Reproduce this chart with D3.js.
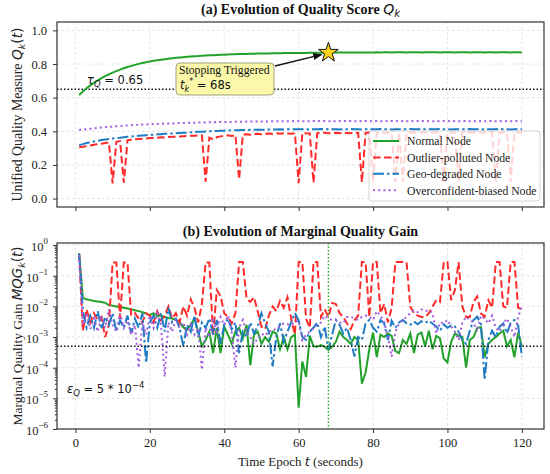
<!DOCTYPE html>
<html>
<head>
<meta charset="utf-8">
<script src="https://cdn.jsdelivr.net/npm/d3@7"></script>
<style>
body { margin: 0; background: #fff; }
</style>
</head>
<body>
<script>
// ---- data ----
var epochs = d3.range(1, 121);
var stopEpoch = 68;
var tauQ = 0.65;
var epsQ = 5e-4;
var seriesNames = ["Normal Node", "Outlier-polluted Node", "Geo-degraded Node", "Overconfident-biased Node"];
var qTicks = [0, 0.2, 0.4, 0.6, 0.8, 1.0];
var timeTicks = [0, 20, 40, 60, 80, 100, 120];
var mqgDecades = [1e-6, 1e-5, 1e-4, 1e-3, 1e-2, 1e-1, 1];

// (a) quality score Q_k(t)
var qNormal = [
    .615, .637, .656, .673, .689, .703, .716, .728, .739, .749,
    .758, .767, .775, .782, .789, .795, .801, .806, .811, .815,
    .819, .823, .826, .829, .832, .835, .837, .839, .841, .843,
    .845, .847, .848, .850, .851, .852, .853, .854, .855, .856,
    .857, .858, .858, .859, .860, .860, .861, .861, .862, .862,
    .863, .863, .864, .864, .864, .865, .865, .865, .866, .866,
    .866, .866, .867, .867, .867, .867, .868, .868, .868, .868,
    .868, .868, .869, .869, .869, .869, .869, .869, .869, .869,
    .870, .869, .870, .870, .869, .870, .870, .870, .869, .870,
    .870, .870, .869, .870, .870, .870, .870, .869, .870, .870,
    .870, .869, .870, .870, .870, .869, .870, .870, .870, .869,
    .870, .870, .869, .870, .870, .870, .869, .870, .870, .869
];
var qOutlier = [
    .305, .308, .312, .316, .320, .323, .326, .330, .334, .090,
    .338, .342, .095, .347, .350, .352, .354, .356, .358, .360,
    .361, .362, .364, .363, .366, .368, .367, .369, .371, .372,
    .373, .374, .375, .376, .100, .362, .352, .365, .370, .374,
    .376, .372, .378, .115, .380, .382, .379, .384, .386, .383,
    .385, .387, .384, .388, .386, .389, .387, .385, .388, .092,
    .390, .388, .387, .095, .389, .390, .392, .388, .390, .391,
    .389, .391, .390, .388, .392, .390, .097, .391, .392, .100,
    .391, .393, .390, .392, .391, .100, .393, .100, .392, .391,
    .393, .392, .394, .391, .393, .392, .394, .393, .100, .393,
    .392, .394, .100, .393, .392, .394, .393, .392, .394, .393,
    .392, .394, .100, .393, .392, .394, .100, .393, .392, .394
];
var qGeo = [
    .318, .324, .330, .335, .340, .344, .348, .351, .354, .357,
    .360, .362, .365, .367, .369, .371, .373, .375, .377, .379,
    .380, .382, .383, .385, .386, .387, .389, .390, .391, .392,
    .394, .395, .397, .398, .399, .400, .401, .402, .403, .404,
    .405, .406, .406, .407, .408, .408, .409, .409, .410, .410,
    .410, .411, .411, .411, .412, .411, .412, .412, .412, .413,
    .412, .413, .411, .413, .412, .414, .412, .413, .412, .413,
    .411, .413, .412, .414, .412, .413, .411, .413, .412, .413,
    .412, .414, .412, .413, .411, .413, .412, .413, .412, .414,
    .412, .413, .411, .413, .412, .413, .412, .414, .412, .413,
    .411, .413, .412, .413, .412, .414, .412, .413, .411, .413,
    .412, .413, .412, .414, .412, .413, .411, .413, .412, .413
];
var qOverconf = [
    .408, .410, .413, .415, .418, .420, .422, .424, .426, .428,
    .430, .432, .433, .435, .436, .438, .439, .440, .441, .442,
    .443, .444, .445, .446, .447, .447, .448, .449, .450, .450,
    .451, .451, .452, .453, .453, .454, .454, .455, .455, .455,
    .456, .456, .457, .457, .457, .458, .458, .458, .459, .459,
    .459, .459, .460, .460, .460, .460, .460, .461, .460, .461,
    .460, .461, .460, .461, .460, .461, .461, .460, .461, .460,
    .461, .460, .461, .461, .460, .461, .460, .461, .460, .461,
    .461, .460, .461, .460, .461, .461, .460, .461, .460, .461,
    .460, .461, .461, .460, .461, .460, .461, .460, .461, .461,
    .460, .461, .460, .461, .461, .460, .461, .460, .461, .460,
    .461, .461, .460, .461, .460, .461, .460, .461, .461, .460
];

// (b) marginal quality gain MQG_k(t)
var mqgNormal = [
    .55, .019, .017, .016, .015, .0145, .014, .013, .011, .0105,
    .010, .0095, .009, .0085, .008, .0075, .007, .0065, .0058, .0052,
    .006, .0048, .005, .0045, .0042, .004, .0036, .003, .0021, 1.7e-3,
    2.5e-3, 4e-3, 1.5e-3, 5e-4, 8e-4, 1.5e-3, 3e-4, 2e-3, 3e-4, 2.2e-3,
    1.2e-3, 6e-4, 1.5e-3, 2e-3, 9e-4, 2.5e-3, 1.2e-4, 1.2e-3, 1.5e-3, 6e-4,
    1e-3, 7e-4, 1.5e-3, 1.3e-3, 4e-4, 1e-3, 4e-4, 1e-3, 1.2e-3, 5e-6,
    1.6e-4, 5e-5, 1.1e-3, 5e-4, 4.8e-4, 5.5e-4, 4.8e-4, 3.8e-4, 4.8e-4, 7e-4,
    1.5e-3, 1e-3, 8e-4, 6e-4, 1e-3, 8e-4, 3e-5, 7e-5, 4e-4, 1.4e-3,
    2.2e-4, 1.2e-3, 1e-3, 1.3e-3, 1.1e-3, 3.5e-4, 3e-4, 8e-4, 6e-4, 1.3e-3,
    3e-4, 1.2e-3, 1.4e-3, 5e-4, 1.6e-3, 4e-4, 1.1e-3, 9e-4, 2e-4, 1.5e-4,
    7e-4, 1.3e-3, 1.1e-3, 1e-3, 1e-4, 8e-4, 1e-3, 2e-3, 2.1e-3, 2.2e-4,
    6e-4, 8e-4, 1e-3, 1.3e-3, 1.6e-3, 5e-4, 8e-4, 2.2e-4, 1.4e-3, 5e-4
];
var mqgOutlier = [
    .5, 1.6e-3, 8e-3, 3e-3, 6e-3, 3.5e-3, 4.5e-3, 1e-3, 2.5e-3, .27,
    .27, 4e-3, .27, .27, 5e-3, 6e-3, 4e-3, 3e-3, 6e-3, 5e-3,
    3e-3, 7e-3, 3.5e-3, 5e-3, 1e-2, 4e-3, 6e-3, 3e-3, 1e-2, 5e-3,
    1.7e-2, 9e-3, 3e-3, 1.2e-2, .27, .27, 1.1e-3, 3.4e-2, 2.2e-2, 6e-3,
    4.5e-3, 2.8e-3, 6e-3, .28, .28, 1.8e-2, 1.4e-2, 2e-2, 7e-3, 2.2e-3,
    1.8e-3, 5e-3, 1e-2, 7e-3, 1.5e-2, 9e-3, 2e-2, 4e-3, 1.2e-3, .28,
    .28, 4e-3, 2e-3, .28, .28, 4.5e-3, 8e-3, 4.5e-3, 1.3e-2, 1.2e-2,
    6e-3, 4.5e-3, 2.8e-3, 1.8e-3, 3.5e-3, 5e-3, .28, .28, 4.5e-3, .28,
    .28, 6e-3, 1.2e-2, 3e-3, 9e-3, .28, .28, .28, .28, 1e-2,
    6e-3, 5e-3, 4.5e-3, 4.5e-3, 6e-3, 1e-2, 1.6e-2, 1.4e-2, .28, .28,
    1.6e-2, 3.4e-2, .28, 1e-2, 4.5e-3, 4.5e-3, 1.4e-2, 2.1e-2, 6e-3, 4.6e-3,
    1.6e-2, 9e-3, .28, .28, 1e-2, 9e-3, .28, .28, 9e-3, 8e-3
];
var mqgGeo = [
    .52, 7e-3, 2e-3, 5e-3, 2e-3, 7e-3, 1.8e-3, 4.5e-3, 2.5e-3, 6e-3,
    1.5e-3, 3.5e-3, 2e-3, 5e-3, 1.3e-3, 4e-3, 2e-3, 6e-3, 1.4e-4, 3e-3,
    5e-3, 2e-3, 6e-3, 1.5e-3, 9e-3, 3e-3, 4e-3, 2e-3, 5e-4, 2.5e-3,
    1.5e-3, 5e-3, 1e-3, 3e-3, 2e-3, 4e-3, 1.2e-3, 3.6e-3, 6e-4, 2.5e-3,
    4e-3, 1.8e-3, 3e-3, 3e-4, 1.5e-3, 1e-3, 3e-3, 1.3e-3, 2.2e-3, 6e-3,
    2.8e-3, 1.5e-3, 1.1e-4, 1e-3, 2.8e-3, 7e-4, 1.5e-3, 3e-3, 6e-3, 3.5e-3,
    1e-3, 8e-4, 1.5e-3, 2e-3, 3e-3, 1e-3, 2.2e-3, 3.8e-4, 1.2e-3, 3.6e-3,
    2.5e-3, 1.3e-3, 2e-3, 8e-4, 2.3e-4, 1e-3, 8e-4, 2.8e-3, 3.6e-3, 2e-3,
    1.5e-3, 3.6e-3, 2.8e-3, 8e-4, 3.4e-3, 2e-3, 3e-3, 3.6e-3, 2.8e-3, 2.5e-3,
    3.2e-3, 2.6e-3, 3.3e-3, 2.9e-3, 3.4e-3, 2.7e-3, 2.2e-3, 1.6e-3, 2.6e-3, 2e-3,
    2.4e-3, 2.2e-3, 1.5e-3, 8e-4, 6e-4, 1.6e-3, 3.6e-3, 4.6e-3, 2.6e-3, 4e-5,
    8e-4, 1.6e-3, 1e-3, 2.2e-3, 2.8e-3, 1.3e-3, 3e-3, 3.6e-3, 2.4e-3, 2.3e-4
];
var mqgOverconf = [
    .48, 2.5e-3, 6e-3, 1.8e-3, 4e-3, 1.5e-3, 5e-3, 2e-3, 8e-3, 2.5e-3,
    1.5e-3, 6e-3, 2e-3, 3.5e-3, 1.2e-3, 2.5e-3, 1e-4, 3e-3, 1.2e-3, 5e-3,
    2e-3, 6e-3, 2.5e-3, 5e-5, 3e-3, 1.5e-3, 4e-3, 2e-3, 3e-3, 1.2e-3,
    2.5e-3, 1.2e-3, 2e-3, 8.5e-5, 2e-3, 1e-3, 3.5e-3, 1.5e-3, 4.5e-3, 2.5e-3,
    5e-3, 1.5e-3, 1e-4, 2e-3, 3.6e-3, 1.5e-3, 1e-3, 6e-4, 9e-4, 1.3e-3,
    1.1e-3, 1.6e-3, 1.5e-3, 2e-3, 2.2e-3, 2.8e-3, 2.6e-3, 2.5e-3, 3.2e-3, 3.4e-3,
    8e-4, 1.2e-3, 1.5e-3, 2e-3, 2.5e-3, 3e-3, 5e-3, 4e-3, 3.6e-3, 3.6e-3,
    3e-3, 2.8e-3, 4.5e-3, 4.6e-3, 4e-3, 3.6e-3, 4.5e-3, 5e-3, 4.6e-3, 3.6e-3,
    7e-3, 5e-3, 3e-3, 1e-3, 2.3e-4, 1.5e-3, 2.8e-3, 3.5e-3, 4.6e-3, 6e-3,
    7.5e-3, 6.5e-3, 8e-3, 7e-3, 7.6e-3, 6e-3, 1.3e-3, 3e-3, 2.8e-3, 3.6e-3,
    2.2e-3, 1.5e-3, 8e-4, 3e-3, 4.6e-3, 3.6e-3, 3e-3, 1.5e-3, 5e-3, 4e-3,
    2.8e-3, 5e-3, 2e-3, 1.5e-3, 2.8e-3, 4e-3, 2.2e-3, 1e-3, 4.6e-3, 1e-2
];

// ---- layout ----
var width = 550, height = 474;
var left = 57, right = 544;
var topA = 22, bottomA = 207;
var topB = 243, bottomB = 429;
var serif = "'Liberation Serif', 'Times New Roman', serif";
var mathFont = "'DejaVu Sans', sans-serif";

var colors = ["#22a22a", "#ff2a2a", "#1f7bc4", "#a25ce0"];
var dashes = [null, "7.5,3.5", "11,3,2.5,3", "2,3.2"];

var svg = d3.select("body").append("svg")
    .attr("width", width)
    .attr("height", height)
    .style("font-family", serif);

var x = d3.scaleLinear().domain([-4.95, 125.95]).range([left, right]);
var yA = d3.scaleLinear().domain([-0.05, 1.05]).range([bottomA, topA]);
var yB = d3.scaleLog().domain([1e-6, 1.17]).range([bottomB, topB]);

// minor ticks of the log axis
var minorTicks = [];
for (var e = -6; e < 0; e++)
    for (var m = 2; m < 10; m++) minorTicks.push(m * Math.pow(10, e));

// grid
function grid(yScale, yVals, y0, y1) {
    var g = svg.append("g").attr("stroke", "#dcdcdc").attr("stroke-width", 0.8)
        .attr("stroke-dasharray", "2.5,2.5");
    timeTicks.forEach(function(t) {
        g.append("line").attr("x1", x(t)).attr("x2", x(t)).attr("y1", y0).attr("y2", y1);
    });
    yVals.forEach(function(v) {
        g.append("line").attr("x1", left).attr("x2", right).attr("y1", yScale(v)).attr("y2", yScale(v));
    });
}
grid(yA, qTicks, topA, bottomA);
grid(yB, mqgDecades, topB, bottomB);

function drawSeries(parent, yScale, data, i) {
    var line = d3.line()
        .x(function(d, j) { return x(epochs[j]); })
        .y(function(d) { return yScale(d); });
    parent.append("path")
        .attr("d", line(data))
        .attr("fill", "none")
        .attr("stroke", colors[i])
        .attr("stroke-width", 2)
        .attr("stroke-dasharray", dashes[i]);
}

svg.append("clipPath").attr("id", "clipB").append("rect")
    .attr("x", left).attr("y", topB).attr("width", right - left).attr("height", bottomB - topB);

// (a) lines
svg.append("line")
    .attr("x1", left).attr("x2", right).attr("y1", yA(tauQ)).attr("y2", yA(tauQ))
    .attr("stroke", "#111").attr("stroke-width", 1.3).attr("stroke-dasharray", "1.5,2");
[qNormal, qOutlier, qGeo, qOverconf].forEach(function(d, i) { drawSeries(svg, yA, d, i); });

// (b) lines
var gB = svg.append("g").attr("clip-path", "url(#clipB)");
[mqgNormal, mqgOutlier, mqgGeo, mqgOverconf].forEach(function(d, i) { drawSeries(gB, yB, d, i); });

svg.append("line")
    .attr("x1", left).attr("x2", right).attr("y1", yB(epsQ)).attr("y2", yB(epsQ))
    .attr("stroke", "#111").attr("stroke-width", 1.3).attr("stroke-dasharray", "1.5,2");
svg.append("line")
    .attr("x1", x(stopEpoch)).attr("x2", x(stopEpoch)).attr("y1", topB).attr("y2", bottomB)
    .attr("stroke", "#22b022").attr("stroke-width", 1.4).attr("stroke-dasharray", "1.5,2");

// frames
[[topA, bottomA], [topB, bottomB]].forEach(function(p) {
    svg.append("rect").attr("x", left).attr("y", p[0])
        .attr("width", right - left).attr("height", p[1] - p[0])
        .attr("fill", "none").attr("stroke", "#333").attr("stroke-width", 1.2);
});

// axes
function styleAxis(g) {
    g.select(".domain").remove();
    g.selectAll(".tick line").attr("stroke", "#333").attr("stroke-width", 1);
    g.selectAll(".tick text").attr("font-family", serif).attr("font-size", 12.5).attr("fill", "#222");
}

svg.append("g").attr("transform", "translate(0," + bottomA + ")")
    .call(d3.axisBottom(x).tickValues(timeTicks).tickSize(4).tickFormat(""))
    .call(styleAxis);
svg.append("g").attr("transform", "translate(" + left + ",0)")
    .call(d3.axisLeft(yA).tickValues(qTicks).tickSize(4).tickPadding(6).tickFormat(d3.format(".1f")))
    .call(styleAxis);

svg.append("g").attr("transform", "translate(0," + bottomB + ")")
    .call(d3.axisBottom(x).tickValues(timeTicks).tickSize(4).tickPadding(5).tickFormat(d3.format("d")))
    .call(styleAxis);
svg.append("g").attr("transform", "translate(" + left + ",0)")
    .call(d3.axisLeft(yB).tickValues(mqgDecades).tickSize(4).tickFormat(""))
    .call(styleAxis);
svg.append("g").attr("transform", "translate(" + left + ",0)")
    .call(d3.axisLeft(yB).tickValues(minorTicks).tickSize(2.2).tickFormat(""))
    .call(styleAxis);

mqgDecades.forEach(function(v) {
    var ex = Math.round(Math.log10(v));
    var t = svg.append("text")
        .attr("x", left - 9).attr("y", yB(v) + 6)
        .attr("text-anchor", "end").attr("font-size", 12.5).attr("fill", "#222");
    t.append("tspan").text("10");
    t.append("tspan").attr("dy", -7).attr("font-size", 9)
        .text(ex < 0 ? "\u2212" + (-ex) : String(ex));
});

// math-ish text helper: parts = [text, style]
function richText(parent, parts) {
    parts.forEach(function(p) {
        var s = parent.append("tspan").text(p[0]);
        var o = p[1];
        if (!o) return;
        if (o.font) s.attr("font-family", o.font);
        if (o.italic) s.attr("font-style", "italic");
        if (o.size) s.attr("font-size", o.size);
        if (o.dx) s.attr("dx", o.dx);
        if (o.dy) s.attr("dy", o.dy);
        if (o.weight) s.attr("font-weight", o.weight);
    });
}

// titles
var tA = svg.append("text").attr("x", (left + right) / 2).attr("y", 14)
    .attr("text-anchor", "middle").attr("font-size", 14).attr("font-weight", "bold").attr("fill", "#111");
richText(tA, [["(a) Evolution of Quality Score "], ["Q", {font: mathFont, italic: true, weight: "normal"}],
    ["k", {font: mathFont, italic: true, weight: "normal", size: 10, dy: 3}]]);

svg.append("text").attr("x", (left + right) / 2).attr("y", 236)
    .attr("text-anchor", "middle").attr("font-size", 14).attr("font-weight", "bold").attr("fill", "#111")
    .text("(b) Evolution of Marginal Quality Gain");

// y labels
var ylA = svg.append("text").attr("transform", "translate(22," + ((topA + bottomA) / 2) + ") rotate(-90)")
    .attr("text-anchor", "middle").attr("font-size", 13.8).attr("fill", "#222");
richText(ylA, [["Unified Quality Measure "], ["Q", {font: mathFont, italic: true}],
    ["k", {font: mathFont, italic: true, size: 9.5, dy: 3}], ["(", {font: mathFont, dy: -3}],
    ["t", {font: mathFont, italic: true}], [")", {font: mathFont}]]);

var ylB = svg.append("text").attr("transform", "translate(22," + ((topB + bottomB) / 2) + ") rotate(-90)")
    .attr("text-anchor", "middle").attr("font-size", 13.4).attr("fill", "#222");
richText(ylB, [["Marginal Quality Gain "], ["MQG", {font: mathFont, italic: true}],
    ["k", {font: mathFont, italic: true, size: 9.5, dy: 3}], ["(", {font: mathFont, dy: -3}],
    ["t", {font: mathFont, italic: true}], [")", {font: mathFont}]]);

// x label
var xl = svg.append("text").attr("x", (left + right) / 2).attr("y", 466)
    .attr("text-anchor", "middle").attr("font-size", 13).attr("fill", "#222");
richText(xl, [["Time Epoch "], ["t", {font: mathFont, italic: true}], [" (seconds)"]]);

// threshold labels
var tau = svg.append("text").attr("x", 87).attr("y", 84).attr("font-family", mathFont)
    .attr("font-size", 11.5).attr("fill", "#111");
richText(tau, [["\u03c4", {italic: true}], ["Q", {italic: true, size: 8.5, dy: 3}], [" = 0.65", {dy: -3}]]);

var eps = svg.append("text").attr("x", 67).attr("y", 393).attr("font-family", mathFont)
    .attr("font-size", 11.5).attr("fill", "#111");
richText(eps, [["\u03b5", {italic: true}], ["Q", {italic: true, size: 8.5, dy: 3}], [" = 5 * 10", {dy: -3}],
    ["\u22124", {size: 8.5, dy: -5}]]);

// stopping annotation
var starX = x(stopEpoch), starY = yA(qNormal[stopEpoch - 1]);
svg.append("defs").append("marker")
    .attr("id", "arrow").attr("viewBox", "0 0 10 10").attr("refX", 9).attr("refY", 5)
    .attr("markerWidth", 7).attr("markerHeight", 7).attr("orient", "auto")
    .append("path").attr("d", "M0,1 L10,5 L0,9 z").attr("fill", "#111");

svg.append("rect").attr("x", 176).attr("y", 63).attr("width", 98).attr("height", 32)
    .attr("rx", 4).attr("fill", "#fbf8aa").attr("stroke", "#8a8a6a").attr("stroke-width", 0.8);
svg.append("line").attr("x1", 275).attr("y1", 66).attr("x2", starX - 7).attr("y2", starY + 2)
    .attr("stroke", "#111").attr("stroke-width", 1.3).attr("marker-end", "url(#arrow)");
svg.append("path")
    .attr("d", d3.symbol().type(d3.symbolStar).size(120)())
    .attr("transform", "translate(" + starX + "," + starY + ")")
    .attr("fill", "#ffd31a").attr("stroke", "#111").attr("stroke-width", 1);

svg.append("text").attr("x", 179).attr("y", 74).attr("font-size", 11.7).attr("fill", "#111")
    .text("Stopping Triggered");
var ts = svg.append("text").attr("x", 180).attr("y", 89).attr("font-family", mathFont)
    .attr("font-size", 11.5).attr("fill", "#111");
richText(ts, [["t", {italic: true}], ["k", {italic: true, size: 8, dy: 3}], ["*", {size: 8, dy: -8}],
    [" = 68s", {dy: 5}]]);

// legend
var lg = svg.append("g");
lg.append("rect").attr("x", 369).attr("y", 131).attr("width", 171).attr("height", 70)
    .attr("rx", 3).attr("fill", "#fff").attr("fill-opacity", 0.8)
    .attr("stroke", "#cccccc").attr("stroke-width", 0.8);
seriesNames.forEach(function(name, i) {
    var yy = 141 + i * 16.4;
    lg.append("line").attr("x1", 373).attr("x2", 399).attr("y1", yy).attr("y2", yy)
        .attr("stroke", colors[i]).attr("stroke-width", 2).attr("stroke-dasharray", dashes[i]);
    lg.append("text").attr("x", 407).attr("y", yy + 4.3).attr("font-size", 11.7).attr("fill", "#222")
        .text(name);
});
</script>
</body>
</html>
